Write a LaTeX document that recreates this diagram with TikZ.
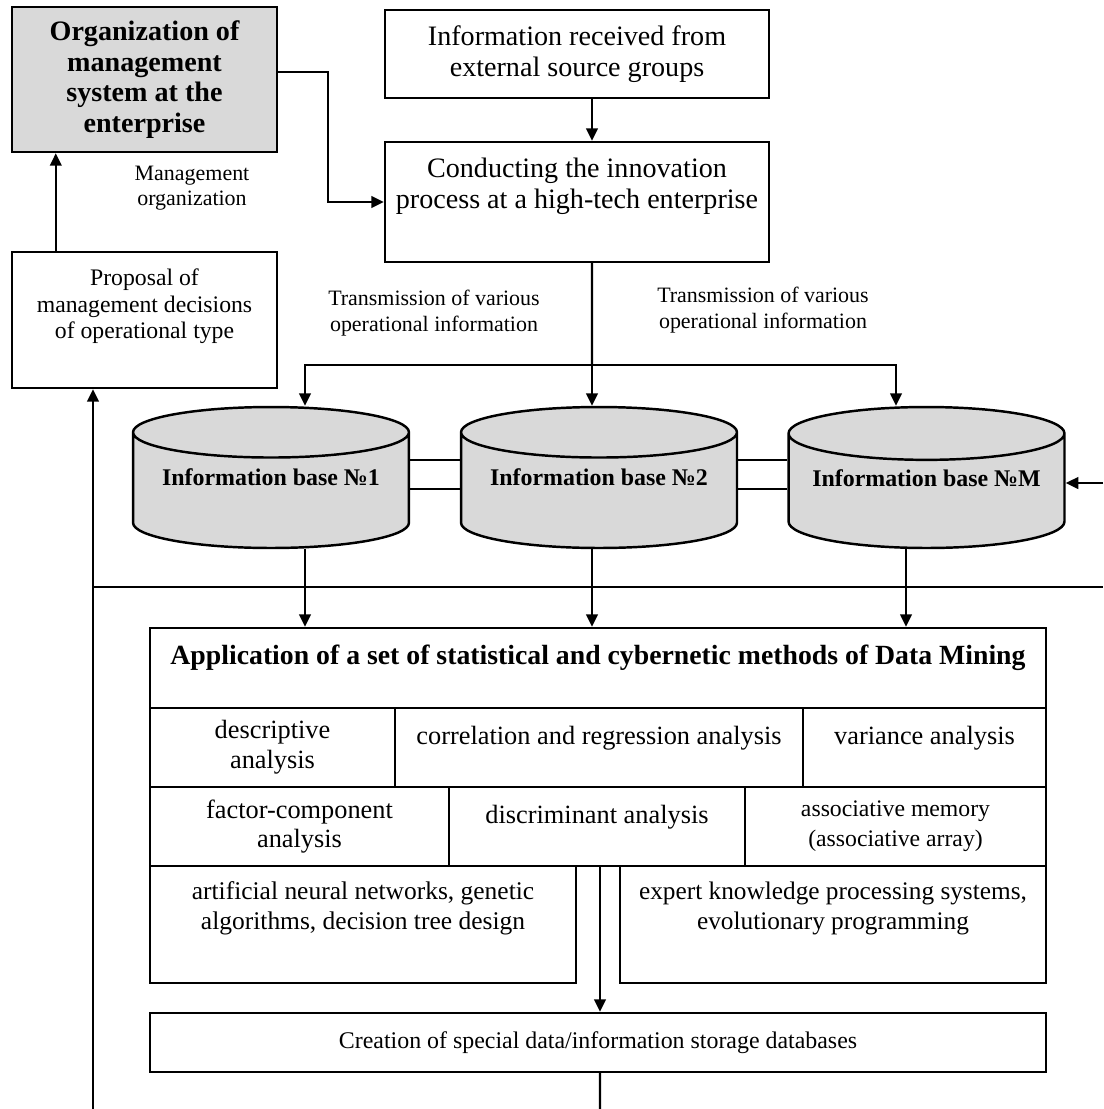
\documentclass[tikz,border=0pt]{standalone}
\usepackage{fontspec}
\setmainfont{Liberation Serif}
\usepackage{tikz}
\usetikzlibrary{arrows.meta, positioning, calc, shapes.geometric}
\definecolor{basecolor}{RGB}{217,217,217}

\begin{document}
\begin{tikzpicture}[x=0.02cm, y=-0.02cm,
    box/.style={draw, line width=1.4pt, align=center, inner sep=2pt, font=\fontsize{16}{17.5}\selectfont},
    cell/.style={box, minimum height=1.58cm, font=\fontsize{15}{17}\selectfont},
    cyl/.style={draw, line width=1.4pt, cylinder, shape border rotate=90, shape aspect=0.22, fill=basecolor,
      minimum width=5.52cm, minimum height=2.82cm, anchor=shape center, text depth=0.69cm,
      font=\bfseries\fontsize{13.6}{15}\selectfont},
    lbl/.style={font=\fontsize{12.5}{14.5}\selectfont, align=center},
    line/.style={line width=1.4pt},
    arr/.style={line, -{Triangle[length=2.5mm, width=2.3mm]}}
  ]
  \useasboundingbox (0,0) rectangle (1103,1109);

  % top part
  \node[box, fill=basecolor, minimum width=5.3cm, minimum height=2.9cm, font=\bfseries\fontsize{16}{17.5}\selectfont] (org) at (144.5,79.5)
    {Organization of\\management\\system at the\\enterprise};
  \node[box, minimum width=5.3cm, minimum height=2.72cm, text depth=0.65cm, font=\fontsize{13.5}{15.3}\selectfont] (prop) at (144.5,320)
    {Proposal of\\management decisions\\of operational type};
  \node[box, minimum width=7.68cm, minimum height=1.76cm] (info) at (577,54)
    {Information received from\\external source groups};
  \node[box, minimum width=7.68cm, minimum height=2.4cm, text depth=0.75cm] (cond) at (577,202)
    {Conducting the innovation\\process at a high-tech enterprise};

  \node[lbl] (mlbl) at (192,188) {Management\\organization};
  \node[lbl] (tlbl1) at (434,313) {Transmission of various\\operational information};
  \node[lbl] (tlbl2) at (763,310) {Transmission of various\\operational information};

  % information bases
  \node[cyl] (cyl1) at (271,477.5) {Information base №1};
  \node[cyl] (cyl2) at (599,477.5) {Information base №2};
  \node[cyl] (cyl3) at (926.5,477.5) {Information base №M};

  % data mining block
  \node[box, minimum width=17.92cm, minimum height=1.6cm, text depth=0.54cm, font=\bfseries\fontsize{15.8}{18}\selectfont] (app) at (598,668)
    {Application of a set of statistical and cybernetic methods of Data Mining};
  \node[cell, minimum width=4.9cm] (descr) at (272.5,747.5) {descriptive\\analysis};
  \node[cell, minimum width=8.16cm, text depth=0.48cm] (corr) at (599,747.5) {correlation and regression analysis};
  \node[cell, minimum width=4.86cm, text depth=0.48cm] (var) at (924.5,747.5) {variance analysis};
  \node[cell, minimum width=5.98cm] (fact) at (299.5,826.5) {factor-component\\analysis};
  \node[cell, minimum width=5.92cm, text depth=0.48cm] (discr) at (597,826.5) {discriminant analysis};
  \node[cell, minimum width=6.02cm, font=\fontsize{13.5}{17}\selectfont] (assoc) at (895.5,826.5) {associative memory\\(associative array)};
  \node[cell, minimum width=8.52cm, minimum height=2.34cm, text depth=0.75cm, font=\fontsize{14.5}{17}\selectfont] (ann) at (363,924.5)
    {artificial neural networks, genetic\\algorithms, decision tree design};
  \node[cell, minimum width=8.52cm, minimum height=2.34cm, text depth=0.75cm, font=\fontsize{14.4}{17}\selectfont] (expert) at (833,924.5)
    {expert knowledge processing systems,\\evolutionary programming};
  \node[box, minimum width=17.92cm, minimum height=1.18cm, font=\fontsize{13.6}{15}\selectfont] (creat) at (598,1042.5)
    {Creation of special data/information storage databases};

  % free ends
  \coordinate (split) at (592,365);
  \coordinate (rin) at (1103,483);
  \coordinate (fbl) at (93,587);
  \coordinate (fbr) at (1103,587);
  \coordinate (fbb) at (93,1109);
  \coordinate (cout) at (600,1109);

  % connectors
  \draw[arr] ([xshift=0.9cm]prop.north west) -- ([xshift=0.9cm]org.south west);
  \draw[arr] ([yshift=0.15cm]org.east) -- ++(1cm,0) |- (cond.west);
  \draw[arr] ([xshift=0.3cm]info.south) -- ([xshift=0.3cm]cond.north);
  \draw[line] ([xshift=0.3cm]cond.south) -- (split);
  \draw[arr] (split) -- (split |- cyl2.north);
  \draw[arr] (split) -| ([xshift=0.68cm]cyl1.north);
  \draw[arr] (split) -| ([xshift=-0.61cm]cyl3.north);
  \draw[line] ([yshift=0.35cm]cyl1.shape center -| cyl1.east) -- ([yshift=0.35cm]cyl2.shape center -| cyl2.west);
  \draw[line] ([yshift=-0.23cm]cyl1.shape center -| cyl1.east) -- ([yshift=-0.23cm]cyl2.shape center -| cyl2.west);
  \draw[line] ([yshift=0.35cm]cyl2.shape center -| cyl2.east) -- ([yshift=0.35cm]cyl3.shape center -| cyl3.west);
  \draw[line] ([yshift=-0.23cm]cyl2.shape center -| cyl2.east) -- ([yshift=-0.23cm]cyl3.shape center -| cyl3.west);
  \draw[arr] (rin) -- (rin -| cyl3.east);
  \draw[line] (fbl) -- (fbr);
  \draw[arr] (fbb) -- (fbb |- prop.south);
  \draw[arr] ([xshift=0.68cm]cyl1.south) -- ([xshift=0.68cm]cyl1.south |- app.north);
  \draw[arr] ([xshift=-0.14cm]cyl2.south) -- ([xshift=-0.14cm]cyl2.south |- app.north);
  \draw[arr] ([xshift=-0.41cm]cyl3.south) -- ([xshift=-0.41cm]cyl3.south |- app.north);
  \draw[arr] ([xshift=0.06cm]discr.south) -- ([xshift=0.06cm]discr.south |- creat.north);
  \draw[line] ([xshift=0.04cm]creat.south) -- (cout);
\end{tikzpicture}
\end{document}
